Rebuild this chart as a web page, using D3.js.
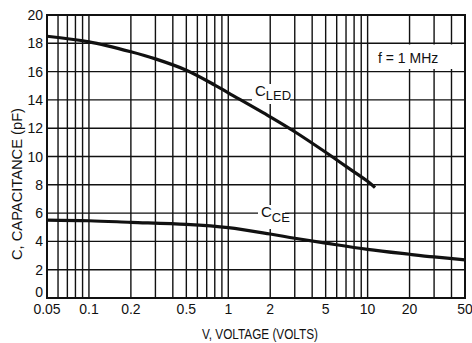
<!DOCTYPE html>
<html>
<head>
<meta charset="utf-8">
<script src="https://cdn.jsdelivr.net/npm/d3@7"></script>
<style>
  body { margin: 0; background: #fff; }
  text { font-family: "Liberation Sans Narrow", "Arial Narrow", "Liberation Sans", sans-serif; fill: #111; }
</style>
</head>
<body>
<svg id="chart" width="472" height="343"></svg>
<script>
// data
var ledVolts = [0.05, 0.1, 0.2, 0.3, 0.5, 0.8, 1, 2, 3, 5, 7, 10, 11.3];
var ledCap   = [18.5, 18.1, 17.4, 16.9, 16.1, 15.05, 14.5, 12.8, 11.75, 10.3, 9.3, 8.25, 7.8];
var ceVolts  = [0.05, 0.1, 0.2, 0.5, 1, 2, 3, 5, 10, 20, 30, 50];
var ceCap    = [5.51, 5.46, 5.35, 5.2, 4.97, 4.52, 4.22, 3.88, 3.44, 3.09, 2.9, 2.7];
var xTicks = [0.05, 0.1, 0.2, 0.5, 1, 2, 5, 10, 20, 50];
var yTicks = [0, 2, 4, 6, 8, 10, 12, 14, 16, 18, 20];
var xGrid = [0.05, 0.06, 0.07, 0.08, 0.09, 0.1, 0.2, 0.3, 0.4, 0.5, 0.6, 0.7, 0.8, 0.9,
             1, 2, 3, 4, 5, 6, 7, 8, 9, 10, 20, 30, 40, 50];

(function() {
var svg = d3.select("#chart");
var pl = 47, pr = 465, pt = 15, pb = 298;

var x = d3.scaleLog().domain([0.05, 50]).range([pl, pr]);
var y = d3.scaleLinear().domain([0, 20]).range([pb, pt]);

// grid
svg.append("g").selectAll("line").data(xGrid).enter().append("line")
    .attr("x1", d => x(d)).attr("x2", d => x(d))
    .attr("y1", pt).attr("y2", pb)
    .attr("stroke", "#111").attr("stroke-width", 1.4);
svg.append("g").selectAll("line").data(yTicks).enter().append("line")
    .attr("x1", pl).attr("x2", pr)
    .attr("y1", d => y(d)).attr("y2", d => y(d))
    .attr("stroke", "#111").attr("stroke-width", 1.4);

// white patches behind labels
svg.append("rect").attr("x", 370).attr("y", 44.5).attr("width", 94).attr("height", 24.5).attr("fill", "#fff");
svg.append("rect").attr("x", 252).attr("y", 84).attr("width", 38).attr("height", 20).attr("fill", "#fff");
svg.append("rect").attr("x", 258).attr("y", 205).attr("width", 27).attr("height", 24).attr("fill", "#fff");

// frame
svg.append("rect").attr("x", pl).attr("y", pt)
    .attr("width", pr - pl).attr("height", pb - pt)
    .attr("fill", "none").attr("stroke", "#111").attr("stroke-width", 2);

// curves
var line = d3.line().x(d => x(d[0])).y(d => y(d[1])).curve(d3.curveCatmullRom.alpha(0.5));
svg.append("path").datum(d3.zip(ledVolts, ledCap))
    .attr("d", line).attr("fill", "none").attr("stroke", "#111").attr("stroke-width", 3.2);
svg.append("path").datum(d3.zip(ceVolts, ceCap))
    .attr("d", line).attr("fill", "none").attr("stroke", "#111").attr("stroke-width", 3.2);

// tick labels
svg.append("g").selectAll("text").data(yTicks).enter().append("text")
    .attr("x", pl - 4).attr("y", d => d === 0 ? y(d) - 1 : y(d) + 5)
    .attr("text-anchor", "end").attr("font-size", 14)
    .text(d => d);
svg.append("g").selectAll("text").data(xTicks).enter().append("text")
    .attr("x", d => x(d)).attr("y", 314)
    .attr("text-anchor", "middle").attr("font-size", 14)
    .text(d => d);

// axis titles
svg.append("text").attr("x", 260).attr("y", 339)
    .attr("text-anchor", "middle").attr("font-size", 14)
    .attr("textLength", 116).attr("lengthAdjust", "spacingAndGlyphs")
    .text("V, VOLTAGE (VOLTS)");
svg.append("text").attr("transform", "translate(22,184) rotate(-90)")
    .attr("text-anchor", "middle").attr("font-size", 14)
    .attr("textLength", 152).attr("lengthAdjust", "spacingAndGlyphs")
    .text("C, CAPACITANCE (pF)");

// annotations
svg.append("text").attr("x", 378).attr("y", 63).attr("font-size", 14).text("f = 1 MHz");
var t1 = svg.append("text").attr("x", 255).attr("y", 96).attr("font-size", 15);
t1.append("tspan").text("C");
t1.append("tspan").attr("dy", 4).attr("font-size", 13).text("LED");
var t2 = svg.append("text").attr("x", 261).attr("y", 217).attr("font-size", 15);
t2.append("tspan").text("C");
t2.append("tspan").attr("dy", 5).attr("font-size", 13).text("CE");
})();
</script>
</body>
</html>
